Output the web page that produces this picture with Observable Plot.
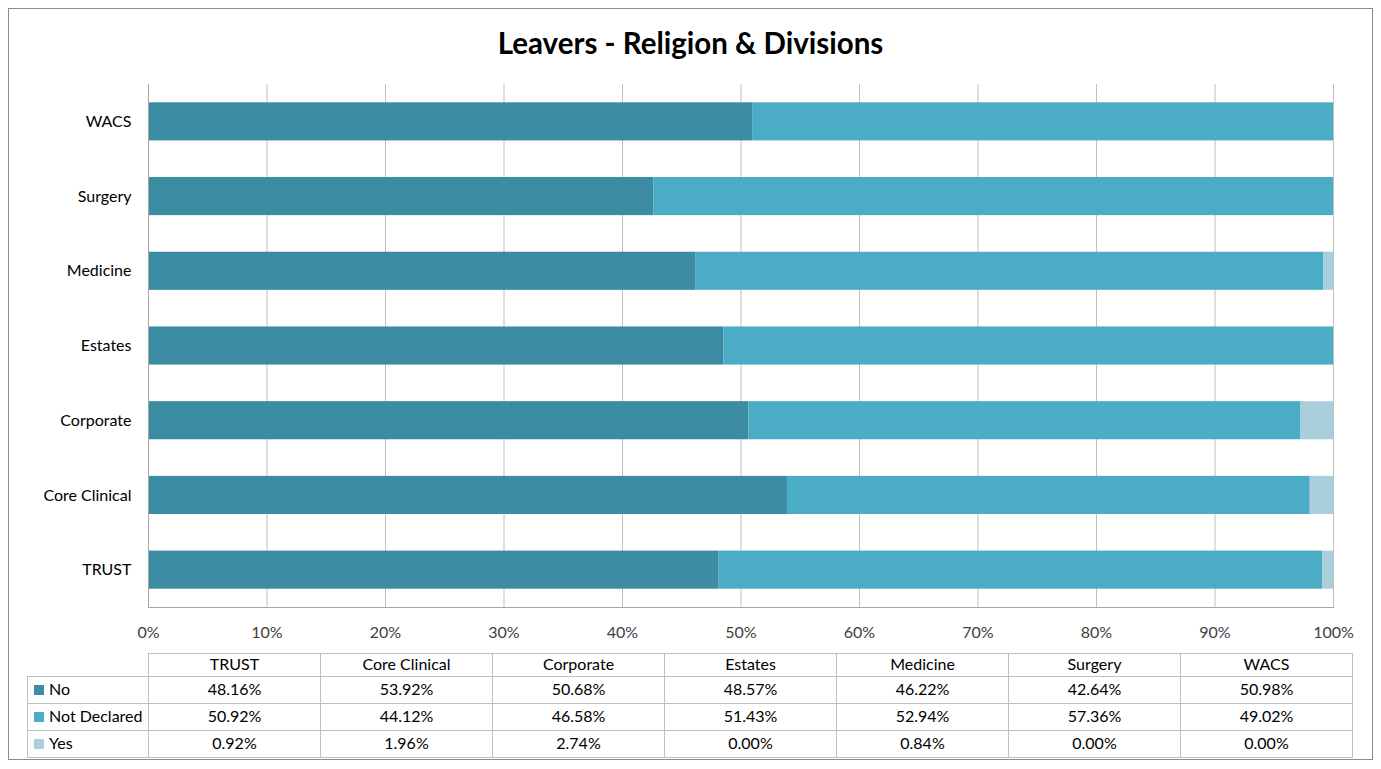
<!DOCTYPE html>
<html><head><meta charset="utf-8">
<script src="https://cdn.jsdelivr.net/npm/d3@7"></script>
<script src="https://cdn.jsdelivr.net/npm/@observablehq/plot@0.6"></script>
<style>
body{margin:0;background:#fff;font-family:Lato,"Open Sans",sans-serif;}
#frame{position:absolute;left:8px;top:8px;width:1365px;height:752px;border:1px solid #8c8c8c;box-sizing:border-box;}
#title{position:absolute;left:0;top:25px;width:1381px;text-align:center;font-weight:bold;font-size:29.5px;color:#000;line-height:36px;}
#chart{position:absolute;left:0;top:60px;}
#tbl{position:absolute;left:27px;top:653px;border-collapse:collapse;font-size:16px;color:#000;table-layout:fixed;}
#tbl td{border:1px solid #bfbfbf;padding:0 0 3px 0;text-align:center;white-space:nowrap;}
#tbl td.lab{text-align:left;padding-left:6px;}
#tbl tr.hd td{height:19px;}
#tbl tr.row td{height:23px;}
#tbl td.blank{border:none;border-right:1px solid #bfbfbf;border-bottom:1px solid #bfbfbf;}
.sw{display:inline-block;width:10px;height:10px;margin-right:5px;vertical-align:0px;}
</style></head>
<body>
<div id="frame"></div>
<div id="title">Leavers - Religion &amp; Divisions</div>
<div id="chart"></div>
<table id="tbl"></table>
<script>
const divisions = ["TRUST","Core Clinical","Corporate","Estates","Medicine","Surgery","WACS"];
const seriesNames = ["No","Not Declared","Yes"];
const seriesColors = ["#3c8ca4","#4bacc6","#a9cfdd"];
const noValues = [48.16,53.92,50.68,48.57,46.22,42.64,50.98];
const notDeclaredValues = [50.92,44.12,46.58,51.43,52.94,57.36,49.02];
const yesValues = [0.92,1.96,2.74,0.00,0.84,0.00,0.00];
const xTicks = [0,10,20,30,40,50,60,70,80,90,100];

const seriesValues = [noValues, notDeclaredValues, yesValues];
const data = [];
divisions.forEach((d,i)=>{
  seriesNames.forEach((s,j)=>data.push({division:d, series:s, value:seriesValues[j][i]}));
});

const chart = Plot.plot({
  width:1381, height:590,
  marginLeft:148, marginRight:48, marginTop:24, marginBottom:43,
  style:{fontFamily:"Lato, 'Open Sans', sans-serif", fontSize:"16px", color:"#404040", background:"transparent"},
  x:{domain:[0,100], label:null},
  y:{domain:divisions.slice().reverse(), paddingInner:0.49, paddingOuter:0.245, round:false, label:null},
  color:{domain:seriesNames, range:seriesColors},
  marks:[
    Plot.ruleX(xTicks.slice(1), {stroke:"#c0c0c0", strokeOpacity:1}),
    Plot.barX(data, Plot.stackX({x:"value", y:"division", fill:"series", order:seriesNames})),
    Plot.ruleX([0], {stroke:"#a6a6a6", strokeOpacity:1}),
    Plot.frame({anchor:"bottom", stroke:"#a6a6a6"}),
    Plot.axisX({ticks:xTicks, tickFormat:d=>d+"%", tickSize:0, tickPadding:19, fontSize:16, fill:"#404040", label:null}),
    Plot.axisY({tickSize:0, tickPadding:17, fontSize:16, fill:"#000", label:null})
  ]
});
document.getElementById("chart").appendChild(chart);

const tbl = d3.select("#tbl");
const cg = tbl.append("colgroup");
cg.append("col").style("width","121px");
divisions.forEach(()=>cg.append("col").style("width","172px"));
const hd = tbl.append("tr").attr("class","hd");
hd.append("td").attr("class","blank");
divisions.forEach(d=>hd.append("td").text(d));
seriesNames.forEach((s,j)=>{
  const tr = tbl.append("tr").attr("class","row");
  const td = tr.append("td").attr("class","lab");
  td.append("span").attr("class","sw").style("background",seriesColors[j]);
  td.append("span").text(s);
  seriesValues[j].forEach(v=>tr.append("td").text(v.toFixed(2)+"%"));
});
</script>
</body></html>
